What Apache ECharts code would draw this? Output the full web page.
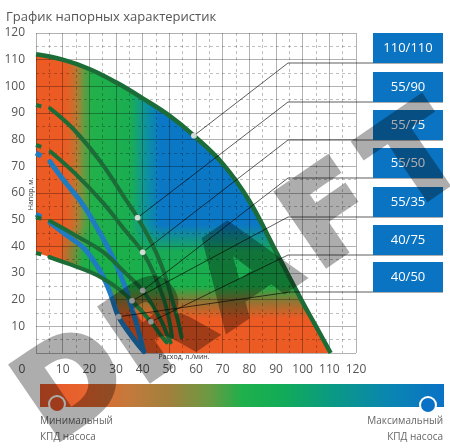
<!DOCTYPE html>
<html>
<head>
<meta charset="utf-8">
<script src="https://cdn.jsdelivr.net/npm/echarts@6/dist/echarts.min.js"></script>
<style>
  html, body { margin: 0; padding: 0; background: #fff; }
  #chart { width: 450px; height: 448px; }
  /* the watermark sits on its own layer, faded as a whole */
  #chart canvas[data-zr-dom-id="zr_1"] { opacity: 0.32 !important; }
</style>
</head>
<body>
<div id="chart"></div>
<script>
// pump models, in legend order
const pumpNames = ['110/110', '55/90', '55/75', '55/50', '55/35', '40/75', '40/50'];

// head curves [flow l/min, head m]
const curve110 = [[0, 112], [10, 110], [20, 106.5], [30, 101.5], [40, 95.5], [50, 89], [59.2, 81.5], [70, 71], [80, 57], [90, 38], [100, 19], [105, 10], [110.5, 0]];
const curve5590 = [[0, 93], [2, 92.5], [5.25, 91.75], [14, 84], [24, 72], [34, 57], [38.1, 50.75], [43, 42], [47, 33], [50.5, 22], [53, 13], [54.6, 6]];
const curve5575 = [[0, 78], [2, 77.3], [5.5, 75.5], [15, 67], [25, 56.5], [33, 46.5], [40, 37.8], [44.5, 29], [48, 20], [50, 12], [51, 6]];
const curve5550 = [[0, 51], [2, 50.3], [5.25, 49.5], [15, 44], [25, 38], [33, 30.5], [40, 23.4], [44.5, 16.5], [47.5, 11], [49.5, 6], [50.5, 4]];
const curve5535 = [[0, 37.5], [2, 37], [5, 36], [12, 33.5], [20, 30.5], [25, 28], [31, 24], [36, 19.6], [43.1, 11.7], [46.5, 7], [49, 4]];
const curve4075 = [[0, 75], [2, 73.8], [5.25, 71.75], [11, 64], [17, 56.5], [22, 48.5], [27, 39.5], [31, 31], [34, 23], [36.5, 15], [38.5, 8], [40.25, 1]];
const curve4050 = [[0, 52], [2, 51], [5.25, 48.9], [11, 44.5], [17.75, 39.5], [22, 34], [25, 29], [28, 22], [31, 13.6], [35, 7.5], [38, 3.5], [40.5, 0.5]];

// points the legend lines point at, same order as pumpNames
const markerPoints = [[59.2, 81.5], [38.1, 50.75], [40, 37.8], [40, 23.4], [36, 19.6], [43.1, 11.7], [31, 13.6]];

const xTickLabels = ['10', '20', '30', '40', '50', '60', '70', '80', '90', '100', '110', '120'];

const watermark = ['D', 'R', 'A', 'F', 'T'];

const GREEN = '#1b6c37';
const BLUE = '#1f7cc0';
const ORANGE = '#ec5b24';

const chart = echarts.init(document.getElementById('chart'));

// white area under the lower-left boundary: 55/35 first, then 40/50
const whiteEdge = curve5535.filter((p) => p[0] <= 25).concat(curve4050.filter((p) => p[0] > 25)).concat([[41, 0]]);

const grad = (x2, y2, stops) => new echarts.graphic.LinearGradient(0, 0, x2, y2, stops.map(([o, c]) => ({ offset: o, color: c })));

const fillSeries = (colors) => ({
  type: 'line', data: curve110, smooth: 0.4, showSymbol: false, silent: true,
  lineStyle: { width: 0 }, areaStyle: { color: colors, opacity: 1 }, z: 1,
});

const curveSeries = (data, color, width) => [
  { type: 'line', data: data.slice(0, 2), showSymbol: false, silent: true, lineStyle: { color, width }, z: 4 },
  { type: 'line', data: data.slice(2), smooth: 0.4, showSymbol: false, silent: true, lineStyle: { color, width, cap: 'round' }, z: 4 },
];

const series = [
  fillSeries(grad(1, 0, [[0, ORANGE], [0.09, ORANGE], [0.14, '#9a8a3a'], [0.19, '#22b04a'], [0.32, '#1aae52'], [0.37, '#0f959a'], [0.42, '#0b78c6'], [1, '#0b77c5']])),
  fillSeries(grad(0, 1, [[0, 'rgba(27,176,74,0)'], [0.57, 'rgba(27,176,74,0)'], [0.66, 'rgba(27,176,74,0.9)'], [0.777, 'rgba(27,176,74,1)'], [0.83, 'rgba(150,115,50,1)'], [0.884, ORANGE], [1, ORANGE]])),
  fillSeries(grad(1, 0, [[0, ORANGE], [0.08, ORANGE], [0.16, 'rgba(236,91,36,0)'], [1, 'rgba(236,91,36,0)']])),
  {
    type: 'line', data: whiteEdge, smooth: 0.4, showSymbol: false, silent: true,
    lineStyle: { width: 0 }, areaStyle: { color: '#fff', opacity: 1 }, z: 1,
  },
  ...curveSeries(curve4075, BLUE, 5),
  ...curveSeries(curve4050, BLUE, 5),
  ...curveSeries(curve5535, GREEN, 4),
  ...curveSeries(curve5550, GREEN, 4),
  ...curveSeries(curve5575, GREEN, 4),
  ...curveSeries(curve5590, GREEN, 4),
  {
    type: 'line', data: curve110, smooth: 0.4, showSymbol: false, silent: true,
    lineStyle: { color: GREEN, width: 4.5 }, z: 4,
  },
  {
    type: 'scatter', data: markerPoints, symbolSize: 6, silent: true,
    itemStyle: { color: '#fff', borderColor: 'rgba(0,0,0,0.35)', borderWidth: 0.5 }, z: 55,
  },
];

const gridLine = { lineStyle: { color: 'rgba(0,0,0,0.3)', width: 1 } };
const minorLine = { show: true, lineStyle: { color: 'rgba(0,0,0,0.25)', width: 1, type: [3, 3] } };

chart.setOption({
  animation: false,
  grid: { left: 36, top: 33, width: 320, height: 320, containLabel: false },
  xAxis: {
    type: 'value', min: 0, max: 120, interval: 10, z: 3,
    axisLine: { show: false }, axisTick: { show: false },
    splitLine: gridLine, minorTick: { show: false, splitNumber: 2 }, minorSplitLine: minorLine,
    axisLabel: {
      margin: 11, fontSize: 12, color: '#555', fontFamily: 'Open Sans',
      formatter: (v) => (v === 0 ? '' : xTickLabels[v / 10 - 1]),
    },
  },
  yAxis: {
    type: 'value', min: 0, max: 120, interval: 10, z: 3,
    axisLine: { show: false }, axisTick: { show: false },
    splitLine: gridLine, minorTick: { show: false, splitNumber: 2 }, minorSplitLine: minorLine,
    axisLabel: { margin: 11, fontSize: 12, color: '#555', fontFamily: 'Open Sans', formatter: (v) => (v === 0 ? '' : v) },
  },
  series,
});

// legend boxes and leader lines
const boxTops = [33, 72, 110, 148, 187, 225, 262];
const bendX = [288, 288, 288, 288, 288, 288, 290];
const graphic = [];
pumpNames.forEach((name, i) => {
  const p = chart.convertToPixel({ gridIndex: 0 }, markerPoints[i]);
  const rowY = boxTops[i] + 30;
  graphic.push({
    type: 'polyline', z: 50, silent: true,
    shape: { points: [p, [bendX[i], rowY], [443, rowY]] },
    style: { stroke: 'rgba(0,0,0,0.8)', lineWidth: 0.8, fill: null },
  });
  graphic.push({
    type: 'rect', z: 52, silent: true,
    shape: { x: 373, y: boxTops[i], width: 70, height: 30 },
    style: { fill: '#0b74c2' },
  });
  graphic.push({
    type: 'text', z: 53, silent: true,
    style: { x: 408, y: boxTops[i] + 15, text: name, fill: '#fff', font: '13px "Open Sans"', align: 'center', verticalAlign: 'middle' },
  });
});

graphic.push(
  { type: 'text', z: 20, style: { x: 6, y: 17, text: 'График напорных характеристик', fill: '#555', font: '13px "Open Sans"', verticalAlign: 'middle' } },
  { type: 'text', z: 20, style: { x: 22, y: 370, text: '0', fill: '#555', font: '12px "Open Sans"', align: 'center', verticalAlign: 'middle' } },
  { type: 'text', z: 20, style: { x: 184, y: 357, text: 'Расход, л./мин.', fill: '#333', font: '7px "Open Sans"', align: 'center', verticalAlign: 'middle' } },
  { type: 'text', z: 20, x: 31, y: 194, rotation: Math.PI / 2, style: { x: 0, y: 0, text: 'Напор, м.', fill: '#333', font: '7px "Open Sans"', align: 'center', verticalAlign: 'middle' } },
  {
    type: 'rect', z: 20, shape: { x: 40, y: 384, width: 404, height: 23 },
    style: {
      fill: new echarts.graphic.LinearGradient(0, 0, 1, 0, [
        { offset: 0, color: '#e8582a' }, { offset: 0.12, color: '#e6652e' }, { offset: 0.22, color: '#c47a3c' },
        { offset: 0.32, color: '#a0803c' }, { offset: 0.42, color: '#6a9a42' }, { offset: 0.5, color: '#1fb04b' },
        { offset: 0.6, color: '#12ab58' }, { offset: 0.72, color: '#0a9a82' }, { offset: 0.86, color: '#0a86b0' },
        { offset: 1, color: '#0a72c6' },
      ]),
    },
  },
  { type: 'circle', z: 21, shape: { cx: 57, cy: 404, r: 8 }, style: { fill: '#e8582a', stroke: '#fff', lineWidth: 2 } },
  { type: 'circle', z: 21, shape: { cx: 428, cy: 405, r: 8 }, style: { fill: '#0a72c6', stroke: '#fff', lineWidth: 2 } },
  { type: 'text', z: 20, style: { x: 40, y: 421, text: 'Минимальный', fill: '#666', font: '10px "Open Sans"', verticalAlign: 'middle' } },
  { type: 'text', z: 20, style: { x: 40, y: 437, text: 'КПД насоса', fill: '#666', font: '10px "Open Sans"', verticalAlign: 'middle' } },
  { type: 'text', z: 20, style: { x: 443, y: 421, text: 'Максимальный', fill: '#666', font: '10px "Open Sans"', align: 'right', verticalAlign: 'middle' } },
  { type: 'text', z: 20, style: { x: 443, y: 437, text: 'КПД насоса', fill: '#666', font: '10px "Open Sans"', align: 'right', verticalAlign: 'middle' } },
);

// watermark letters along a rising diagonal, on their own layer (zlevel 1)
const markStart = [76, 390];
const markStep = [86, -56];
watermark.forEach((ch, i) => {
  graphic.push({
    type: 'text', zlevel: 1, z: 100, silent: true,
    x: markStart[0] + markStep[0] * i, y: markStart[1] + markStep[1] * i, rotation: 0.6,
    style: {
      x: 0, y: 0, text: ch, fill: '#000', stroke: '#000', lineWidth: 6, lineJoin: 'round',
      font: 'bold 120px "DejaVu Sans"', align: 'center', verticalAlign: 'middle',
    },
  });
});

chart.setOption({ graphic });
window.addEventListener('resize', () => chart.resize());
</script>
</body>
</html>
